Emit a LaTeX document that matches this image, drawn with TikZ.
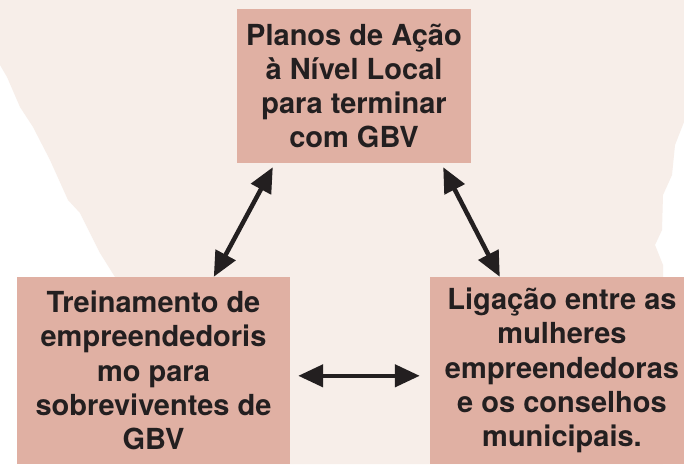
\documentclass[tikz,border=0pt]{standalone}
\usepackage{fontspec}
\setmainfont{TeX Gyre Heros}
\usetikzlibrary{arrows.meta,calc}
\definecolor{boxfill}{HTML}{E0B0A3}
\definecolor{bgshape}{HTML}{F7EEE9}
\definecolor{ink}{HTML}{231F20}
\tikzset{
  box/.style={fill=boxfill, draw=none, align=center, inner sep=0pt,
    font=\bfseries\fontsize{29}{34.3}\selectfont, text=ink},
  biarrow/.style={draw=ink, line width=4.5pt,
    {Triangle[length=25pt,width=22pt]}-{Triangle[length=25pt,width=22pt]}}
}
\begin{document}
\begin{tikzpicture}[x=1pt,y=-1pt]
\useasboundingbox (0,0) rectangle (684,464);
\clip (0,0) rectangle (684,464);
\fill[white] (0,0) rectangle (684,464);
\fill[bgshape] (0,0) -- (684,0) -- (684,122) -- (675,145) -- (672,175) -- (663,195)
  -- (662,230) -- (655,245) -- (663,265) -- (663,464) -- (140,464) -- (115,277)
  -- (100,253) -- (80,213) -- (68,200) -- (50,160) -- (33,127) -- (20,107)
  -- (7,77) -- (0,65) -- cycle;
\node[box, minimum width=234pt, minimum height=154pt] (top) at (354,86)
  {Planos de Ação\\à Nível Local\\para terminar\\com GBV};
\node[box, minimum width=273pt, minimum height=187pt] (left) at (153.5,370.5)
  {Treinamento de\\empreendedoris\\mo para\\sobreviventes de\\GBV};
\node[box, minimum width=264pt, minimum height=187pt] (right) at (562,370.5)
  {Ligação entre as\\mulheres\\empreendedoras\\e os conselhos\\municipais.};
\draw[biarrow] ($(left.north west)+(197,0)$) -- ($(top.south west)+(36,4)$);
\draw[biarrow] ($(top.south east)+(-28,4)$) -- ($(right.north west)+(70,0)$);
\draw[biarrow] ($(left.north east)+(8,99)$) -- ($(right.north west)+(-10,99)$);
\end{tikzpicture}
\end{document}
